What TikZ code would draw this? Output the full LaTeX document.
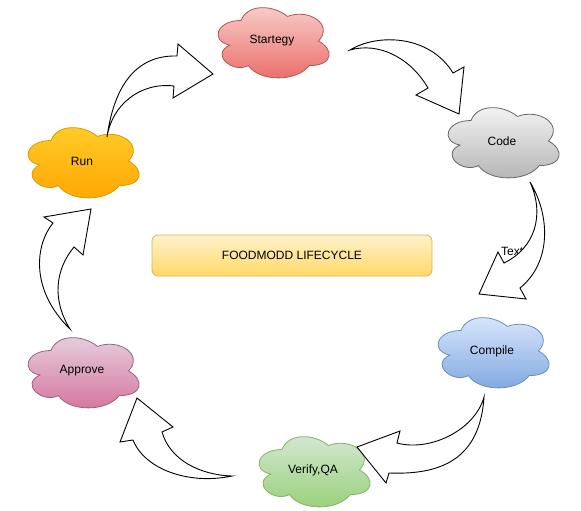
\documentclass[tikz,border=0pt]{standalone}
\usepackage{fontspec}
\setmainfont{Liberation Sans}
\newcommand\mycloud[5]{%
  \begin{scope}[shift={({#1-62},{#2-41})}, x=124pt, y=-82pt]
    \path[draw=#5, top color=#3, bottom color=#4, line width=0.8pt]
      (0.25,0.25) .. controls (0.05,0.25) and (0,0.5) .. (0.16,0.55)
      .. controls (0,0.66) and (0.18,0.9) .. (0.31,0.8)
      .. controls (0.4,1) and (0.7,1) .. (0.8,0.8)
      .. controls (1,0.8) and (1,0.6) .. (0.875,0.5)
      .. controls (1,0.3) and (0.8,0.1) .. (0.625,0.2)
      .. controls (0.5,0.05) and (0.3,0.05) .. (0.25,0.25) -- cycle;
  \end{scope}}
\definecolor{sTop}{HTML}{F8CECC}\definecolor{sBot}{HTML}{EA6B66}\definecolor{sBrd}{HTML}{B85450}
\definecolor{cTop}{HTML}{F5F5F5}\definecolor{cBot}{HTML}{B3B3B3}\definecolor{cBrd}{HTML}{666666}
\definecolor{pTop}{HTML}{DAE8FC}\definecolor{pBot}{HTML}{7EA6E0}\definecolor{pBrd}{HTML}{6C8EBF}
\definecolor{vTop}{HTML}{D5E8D4}\definecolor{vBot}{HTML}{97D077}\definecolor{vBrd}{HTML}{82B366}
\definecolor{aTop}{HTML}{E6D0DE}\definecolor{aBot}{HTML}{D5739D}\definecolor{aBrd}{HTML}{996185}
\definecolor{rTop}{HTML}{FFCD28}\definecolor{rBot}{HTML}{FFA500}\definecolor{rBrd}{HTML}{D79B00}
\definecolor{tTop}{HTML}{FFF2CC}\definecolor{tBot}{HTML}{FFD966}\definecolor{tBrd}{HTML}{D6B656}
\tikzset{
  lbl/.style={font=\fontsize{12}{14}\selectfont, text=black, inner sep=0pt},
  blockarrow/.style={draw=black, fill=white, line width=0.9pt, line join=miter}
}
\begin{document}
\begin{tikzpicture}[x=1pt, y=-1pt]
\useasboundingbox (0,0) rectangle (581,511);
\fill[white] (0,0) rectangle (581,511);

% clouds
\mycloud{272}{41}{sTop}{sBot}{sBrd}
\mycloud{502}{141}{cTop}{cBot}{cBrd}
\mycloud{492}{351}{pTop}{pBot}{pBrd}
\mycloud{313}{470}{vTop}{vBot}{vBrd}
\mycloud{82}{371}{aTop}{aBot}{aBrd}
\mycloud{82}{161}{rTop}{rBot}{rBrd}

\node[lbl] (s) at (272,41) {Startegy};
\node[lbl] (c) at (502,141) {Code};
\node[lbl] (p) at (492,351) {Compile};
\node[lbl] (v) at (313,470) {Verify,QA};
\node[lbl] (a) at (82,371) {Approve};
\node[lbl] (r) at (82,161) {Run};

% title
\node[draw=tBrd, top color=tTop, bottom color=tBot, rounded corners=6pt,
      minimum width=280pt, minimum height=41pt, line width=0.8pt,
      font=\fontsize{12}{14}\selectfont] (title) at (292,255.5) {FOODMODD LIFECYCLE};

% label on arrow Code -> Compile (partly covered by the arrow)
\node[lbl, anchor=west] (t) at (501,251) {Text};

% curved block arrows
\path[blockarrow] (350,50) .. controls (378,33) and (430,35) .. (453,73)
  -- (464,67) -- (459,114) -- (416,95) -- (428,88)
  .. controls (410,57) and (378,42) .. (350,50) -- cycle;

\path[blockarrow] (530,182) .. controls (550,215) and (552,262) .. (520,288)
  -- (526,299) -- (479,294) -- (498,252) -- (504,263)
  .. controls (535,248) and (545,215) .. (530,182) -- cycle;

\path[blockarrow] (484,397) .. controls (480,460) and (440,475) .. (389,473)
  -- (386,483) -- (357,447) -- (400,431) -- (397,443)
  .. controls (430,452) and (475,430) .. (484,397) -- cycle;

\path[blockarrow] (232,476) .. controls (190,485) and (145,470) .. (133,440)
  -- (120,442) -- (137,398) -- (173,427) -- (162,432)
  .. controls (170,460) and (200,475) .. (232,476) -- cycle;

\path[blockarrow] (70,329) .. controls (30,290) and (35,245) .. (53,223)
  -- (44,217) -- (91,209) -- (83,255) -- (74,247)
  .. controls (55,270) and (52,300) .. (70,329) -- cycle;

\path[blockarrow] (107,137) .. controls (115,80) and (140,55) .. (177,56)
  -- (178,44) -- (213,74) -- (173,98) -- (174,86)
  .. controls (140,82) and (112,105) .. (107,137) -- cycle;
\end{tikzpicture}
\end{document}
